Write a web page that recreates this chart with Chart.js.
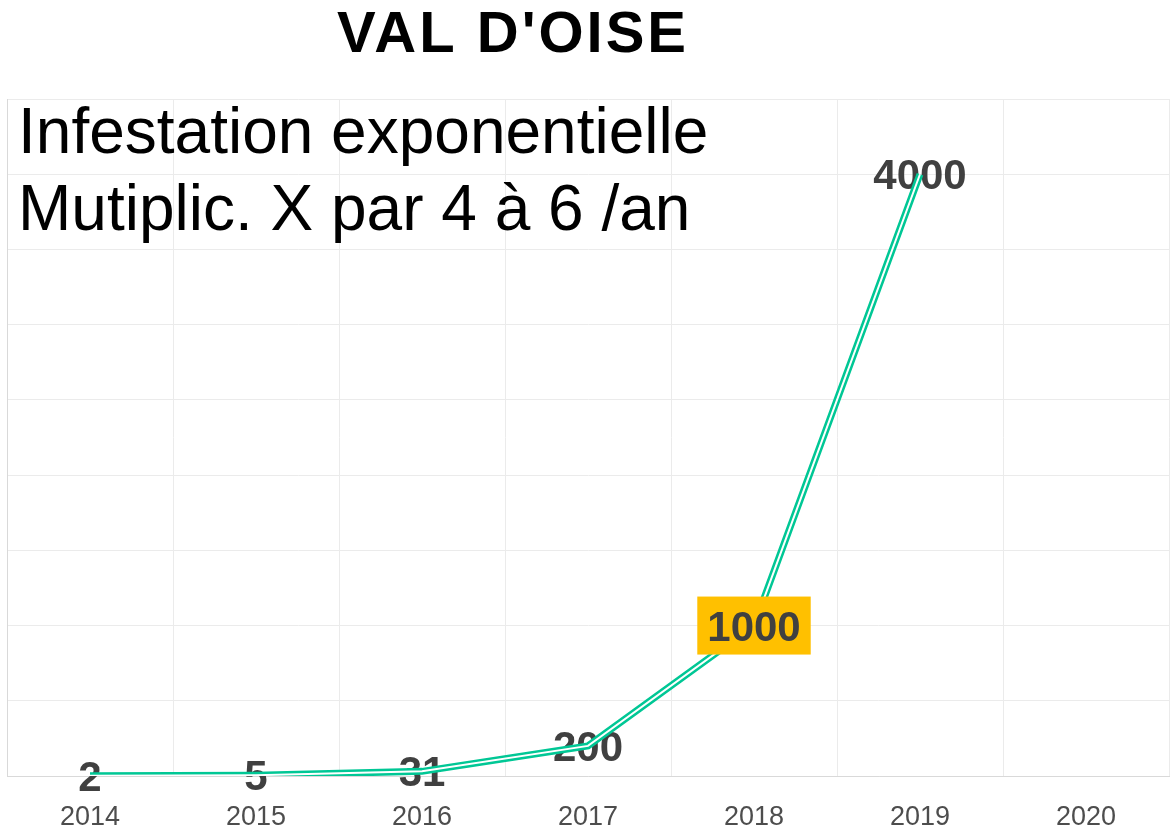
<!DOCTYPE html>
<html>
<head>
<meta charset="utf-8">
<script src="https://cdn.jsdelivr.net/npm/chart.js@4"></script>
<style>
  html, body { margin: 0; padding: 0; background: #ffffff; }
  #wrap { width: 1173px; height: 836px; position: relative; }
</style>
</head>
<body>
<div id="wrap"><canvas id="c" width="1173" height="836"></canvas></div>
<script>
const years = ['2014', '2015', '2016', '2017', '2018', '2019', '2020'];
const counts = [2, 5, 31, 200, 1000, 4000, null];
const valueLabels = ['2', '5', '31', '200', '1000', '4000', null];
const highlightIndex = 4;
const yTicks = [0, 500, 1000, 1500, 2000, 2500, 3000, 3500, 4000, 4500];
const titleText = "VAL D'OISE";
const noteLines = ['Infestation exponentielle', 'Mutiplic. X par 4 à 6 /an'];

const FONT = '"Liberation Sans", Arial, Helvetica, sans-serif';

const labelsBehind = {
  id: 'labelsBehind',
  beforeDatasetsDraw(chart) {
    const ctx = chart.ctx;
    const meta = chart.getDatasetMeta(0);
    ctx.save();
    ctx.font = 'bold 42px ' + FONT;
    ctx.fillStyle = '#404040';
    ctx.textAlign = 'center';
    ctx.textBaseline = 'alphabetic';
    meta.data.forEach((pt, i) => {
      if (valueLabels[i] == null || i === highlightIndex) return;
      ctx.fillText(valueLabels[i], pt.x, pt.y + 15);
    });
    ctx.restore();
  },
  afterDatasetsDraw(chart) {
    const ctx = chart.ctx;
    const meta = chart.getDatasetMeta(0);
    const pt = meta.data[highlightIndex];
    ctx.save();
    ctx.font = 'bold 42px ' + FONT;
    const w = ctx.measureText(valueLabels[highlightIndex]).width;
    ctx.fillStyle = '#FFC000';
    ctx.fillRect(pt.x - w / 2 - 10, pt.y - 29, w + 20, 58);
    ctx.fillStyle = '#404040';
    ctx.textAlign = 'center';
    ctx.fillText(valueLabels[highlightIndex], pt.x, pt.y + 15);
    ctx.restore();
  }
};

const texts = {
  id: 'texts',
  afterDraw(chart) {
    const ctx = chart.ctx;
    ctx.save();
    ctx.fillStyle = '#000000';
    ctx.font = 'bold 58px ' + FONT;
    ctx.textAlign = 'center';
    ctx.textBaseline = 'alphabetic';
    try { ctx.letterSpacing = '3px'; } catch (e) {}
    ctx.fillText(titleText, 513, 52);
    try { ctx.letterSpacing = '0px'; } catch (e) {}
    ctx.font = '64px ' + FONT;
    ctx.textAlign = 'left';
    ctx.fillText(noteLines[0], 18, 153);
    ctx.fillText(noteLines[1], 18, 230);
    ctx.restore();
  }
};

new Chart(document.getElementById('c'), {
  type: 'line',
  data: {
    labels: years,
    datasets: [
      {
        data: counts,
        borderColor: '#00C795',
        borderWidth: 7,
        pointRadius: 0,
        tension: 0,
        spanGaps: false,
        order: 2
      },
      {
        data: counts,
        borderColor: '#ffffff',
        borderWidth: 2,
        pointRadius: 0,
        tension: 0,
        order: 1
      }
    ]
  },
  options: {
    responsive: false,
    animation: false,
    devicePixelRatio: 1,
    layout: { padding: { left: 7, right: 4, top: 99, bottom: 0 } },
    plugins: {
      legend: { display: false },
      tooltip: { enabled: false },
      title: { display: false }
    },
    scales: {
      x: {
        type: 'category',
        offset: true,
        afterFit(scale) { scale.height = 60; },
        grid: { color: '#ebebeb', lineWidth: 1, offset: true, drawTicks: false },
        border: { color: '#d9d9d9', width: 1 },
        ticks: {
          color: '#4d4d4d',
          font: { family: FONT, size: 27 },
          padding: 25,
          maxRotation: 0
        }
      },
      y: {
        type: 'linear',
        min: 0,
        max: 4500,
        afterBuildTicks(axis) { axis.ticks = yTicks.map(v => ({ value: v })); },
        grid: { color: '#ebebeb', lineWidth: 1, drawTicks: false },
        border: { color: '#d9d9d9', width: 1 },
        ticks: { display: false }
      }
    }
  },
  plugins: [labelsBehind, texts]
});
</script>
</body>
</html>
